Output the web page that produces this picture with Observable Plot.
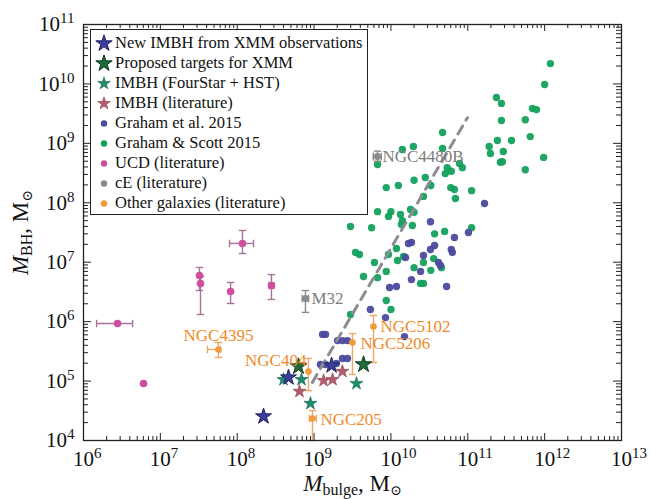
<!DOCTYPE html>
<html><head><meta charset="utf-8">
<script src="https://cdn.jsdelivr.net/npm/d3@7"></script>
<script src="https://cdn.jsdelivr.net/npm/@observablehq/plot@0.6"></script>
<style>
body{margin:0;background:#fff;}
#wrap{position:relative;width:652px;height:499px;font-family:"Liberation Serif","Times New Roman","DejaVu Serif",serif;}
#legend{position:absolute;left:90px;top:29px;width:278px;height:186px;border:1px solid #222;background:#fff;box-sizing:border-box;padding-top:3px;}
.row{position:relative;height:20px;line-height:20px;font-size:16.5px;color:#111;white-space:nowrap;font-family:"Liberation Serif","Times New Roman","DejaVu Serif",serif;}
.row svg{position:absolute;left:2px;top:0;}
.row span{position:absolute;left:24px;top:0;}
</style></head>
<body><div id="wrap"><div id="legend"></div></div>
<script>
// ---------------- data ----------------
const xDecades = [1e6,1e7,1e8,1e9,1e10,1e11,1e12,1e13];
const yDecades = [1e4,1e5,1e6,1e7,1e8,1e9,1e10,1e11];

// Graham & Scott 2015
const gsX = [1.19e12,1.0e12,2.36e11,2.74e11,6.95e11,7.83e11,2.74e11,5.6e11,4.7e10,6.5e11,2.43e11,3.7e11,1.9e11,1.97e11,2.9e11,1.41e10,1.96e10,4.7e10,2.82e11,2.66e11,9.7e11,5.6e11,6.7e9,5.4e10,7.8e10,8.5e10,5.1e10,6.1e10,2.0e10,2.8e10,8.7e9,1.25e10,3.3e10,6.0e10,6.7e10,1.12e11,2.65e10,6.9e10,6.7e9,1.0e10,1.8e10,2.0e10,1.33e10,9.3e9,1.41e10,2.98e9,5.6e9,1.37e10,1.9e10,3.7e10,5.0e10,1.12e11,3.46e9,3.9e9,9.3e9,1.18e10,1.22e10,1.46e10,6.1e9,2.0e10,2.65e10,3.6e10,4.55e10,8.7e9,3.3e10,4.4e9,6.7e9,2.43e10,2.65e10,8.7e9,1.0e10,2.98e9];
const gsY = [2.2e10,9.8e9,5.9e9,4.7e9,3.86e9,3.7e9,2.43e9,2.5e9,1.52e9,1.3e9,1.12e9,1.12e9,8.85e8,6.75e8,7.3e8,7.9e8,8.85e8,8.2e8,4.9e8,4.8e8,5.8e8,3.6e8,4.4e8,3.9e8,4.6e8,3.9e8,3.1e8,3.4e8,2.4e8,2.66e8,1.8e8,1.95e8,1.95e8,1.8e8,1.67e8,1.6e8,1.28e8,1.18e8,7.1e7,7.1e7,7.7e7,6.9e7,6.35e7,5.9e7,5.0e7,4.0e7,3.8e7,4.3e7,4.15e7,3.0e7,3.3e7,3.8e7,1.46e7,1.35e7,1.35e7,1.7e7,1.07e7,1.25e7,9.9e6,8.1e6,9.9e6,1.15e7,8.1e6,7.0e6,7.3e6,5.75e6,5.5e6,4.4e6,4.4e6,2.27e6,1.6e6,1.32e6];

// Graham et al. 2015
const grX = [1.65e11,3.27e10,1.02e11,6.7e10,1.69e10,1.85e10,3.7e10,3.27e10,6.1e10,6.3e10,2.65e10,1.55e10,4.16e10,4.4e10,2.43e10,1.85e10,9.6e9,1.18e10,5.3e10,5.4e9,8.5e9,1.5e10,1.29e9,1.41e9,2.02e9,2.34e9,2.72e9,2.34e9,2.72e9,1.21e9,1.41e9,1.96e9];
const grY = [9.7e7,4.8e7,3.16e7,2.6e7,2.07e7,2.15e7,1.91e7,1.64e7,1.64e7,1.46e7,1.3e7,1.2e7,9.9e6,8.8e6,7.0e6,5.1e6,3.75e6,3.9e6,3.9e6,1.6e6,1.17e6,5.6e5,6.1e5,6.1e5,4.8e5,4.8e5,4.8e5,2.4e5,2.4e5,1.9e5,1.9e5,1.98e5];

// UCD (literature)
const ucdX   = [2.77e6,6.04e6,1.17e8,3.23e7,3.33e7,8.2e7,2.79e8];
const ucdY   = [9.3e5,9.1e4,2.07e7,5.97e6,4.39e6,3.21e6,4.06e6];
const ucdXlo = [1.48e6,null,7.94e7,null,null,null,2.6e8];
const ucdXhi = [4.35e6,null,1.63e8,null,null,null,3.0e8];
const ucdYlo = [null,null,1.40e7,3.34e6,1.32e6,2.02e6,2.36e6];
const ucdYhi = [null,null,3.42e7,8.15e6,5.75e6,4.56e6,6.2e6];

// cE (literature)
const ceNames = ["M32","NGC4480B"];
const ceX   = [7.73e8,6.68e9];
const ceY   = [2.45e6,6.0e8];
const ceXlo = [7.0e8,5.9e9];
const ceXhi = [8.5e8,7.5e9];
const ceYlo = [1.43e6,5.0e8];
const ceYhi = [3.34e6,7.4e8];

// Other galaxies (literature)
const othNames = ["NGC4395","NGC404","NGC205","NGC5206","NGC5102"];
const othX   = [5.7e7,8.45e8,9.53e8,3.16e9,5.93e9];
const othY   = [3.4e5,1.45e5,2.35e4,4.46e5,8.3e5];
const othXlo = [4.1e7,null,8.7e8,null,null];
const othXhi = [6.05e7,null,1.07e9,null,null];
const othYlo = [2.5e5,6.9e4,1.0e4,1.29e5,2.05e5];
const othYhi = [4.46e5,2.4e5,3.2e4,6.3e5,1.27e6];

// IMBH stars
const xmmX  = [2.2e8,4.65e8,1.69e9];
const xmmY  = [2.54e4,1.15e5,1.83e5];
const propX = [6.27e8,4.4e9];
const propY = [1.76e5,1.9e5];
const fsX   = [4.0e8,6.86e8,8.97e8,3.56e9];
const fsY   = [1.06e5,1.06e5,4.2e4,9.1e4];
const litX  = [6.46e8,1.33e9,1.74e9,2.34e9];
const litY  = [6.7e4,1.02e5,1.06e5,1.45e5];

// scaling relation (dashed)
const fitX = [9.5e8,9.9e10];
const fitY = [9.5e4,2.7e9];

const legendLabels = ["New IMBH from XMM observations","Proposed targets for XMM","IMBH (FourStar + HST)","IMBH (literature)","Graham et al. 2015","Graham & Scott 2015","UCD (literature)","cE (literature)","Other galaxies (literature)"];

// ---------------- styles ----------------
const FONT = '"Liberation Serif","Times New Roman","DejaVu Serif",serif';
const C = {
  xmm:"#3b3e9c", xmmS:"#22245f", prop:"#1d6a3a", propS:"#0d3c1f",
  fs:"#1f8d6d", lit:"#b45b6d", gr:"#4b4a9e", gs:"#13a05c",
  ucd:"#cc4f9d", ucdE:"#a8739a", ce:"#8a8a8a", oth:"#f39a3a", othE:"#eaa86a", othT:"#f08a28"
};
const pts = (xs, ys) => xs.map((x,i)=>({x, y:ys[i]}));
const errs = (xs, ys, xlo, xhi, ylo, yhi, names) => xs.map((x,i)=>({x, y:ys[i], xlo:xlo[i], xhi:xhi[i], ylo:ylo[i], yhi:yhi[i], name: names?names[i]:null}));

const gs = pts(gsX, gsY), gr = pts(grX, grY);
const ucd = errs(ucdX, ucdY, ucdXlo, ucdXhi, ucdYlo, ucdYhi);
const ce = errs(ceX, ceY, ceXlo, ceXhi, ceYlo, ceYhi, ceNames);
const oth = errs(othX, othY, othXlo, othXhi, othYlo, othYhi, othNames);
const fit = pts(fitX, fitY);

const capH = {draw(ctx, size){const w=Math.sqrt(size)/2; ctx.moveTo(-w,0); ctx.lineTo(w,0);}};
const capV = {draw(ctx, size){const w=Math.sqrt(size)/2; ctx.moveTo(0,-w); ctx.lineTo(0,w);}};

function errMarks(data, color, sw){
  const v = data.filter(d=>d.ylo!=null), h = data.filter(d=>d.xlo!=null);
  return [
    Plot.ruleX(v, {x:"x", y1:"ylo", y2:"yhi", stroke:color, strokeWidth:sw}),
    Plot.ruleY(h, {y:"y", x1:"xlo", x2:"xhi", stroke:color, strokeWidth:sw}),
    Plot.dot(v, {x:"x", y:"ylo", symbol:capH, r:4.2, stroke:color, strokeWidth:sw, fill:"none"}),
    Plot.dot(v, {x:"x", y:"yhi", symbol:capH, r:4.2, stroke:color, strokeWidth:sw, fill:"none"}),
    Plot.dot(h, {x:"xlo", y:"y", symbol:capV, r:4.2, stroke:color, strokeWidth:sw, fill:"none"}),
    Plot.dot(h, {x:"xhi", y:"y", symbol:capV, r:4.2, stroke:color, strokeWidth:sw, fill:"none"})
  ];
}

const minorOf = dec => dec.slice(0,-1).flatMap(d => [2,3,4,5,6,7,8,9].map(k=>k*d));
const xMinor = minorOf(xDecades), yMinor = minorOf(yDecades);

const W=652, H=499, mL=83, mT=24, mR=31, mB=59;
const iw = W-mL-mR, ih = H-mT-mB;
const tickC = "#222";

const labelStyle = {
  NGC4395:{a:"middle",dx:0,dy:-14}, NGC404:{a:"end",dx:-2,dy:-11}, NGC205:{a:"start",dx:8,dy:1},
  NGC5206:{a:"start",dx:8,dy:1}, NGC5102:{a:"start",dx:7,dy:0}, M32:{a:"start",dx:6,dy:0}, NGC4480B:{a:"start",dx:5,dy:0}
};
function labelMarks(data, color){
  return data.map(d => Plot.text([d], {x:"x", y:"y", text:"name", fill:color, fontSize:17, fontFamily:FONT,
    textAnchor: labelStyle[d.name].a, dx: labelStyle[d.name].dx, dy: labelStyle[d.name].dy}));
}

const plot = Plot.plot({
  width:W, height:H, marginLeft:mL, marginTop:mT, marginRight:mR, marginBottom:mB,
  style:{fontFamily:FONT, background:"#fff", overflow:"visible"},
  x:{type:"log", domain:[1e6,1e13]},
  y:{type:"log", domain:[1e4,1e11]},
  marks:[
    // ticks (inward, all sides)
    Plot.tickX(xMinor, {x:d=>d, insetTop:ih-4, stroke:tickC}),
    Plot.tickX(xMinor, {x:d=>d, insetBottom:ih-4, stroke:tickC}),
    Plot.tickX(xDecades, {x:d=>d, insetTop:ih-7, stroke:tickC}),
    Plot.tickX(xDecades, {x:d=>d, insetBottom:ih-7, stroke:tickC}),
    Plot.tickY(yMinor, {y:d=>d, insetRight:iw-5, stroke:tickC}),
    Plot.tickY(yMinor, {y:d=>d, insetLeft:iw-5, stroke:tickC}),
    Plot.tickY(yDecades, {y:d=>d, insetRight:iw-8, stroke:tickC}),
    Plot.tickY(yDecades, {y:d=>d, insetLeft:iw-8, stroke:tickC}),
    Plot.axisX({ticks:xDecades, tickSize:0, tickPadding:11, fontSize:21, tickFormat:d=>"10^"+Math.round(Math.log10(d)),
      label:"Mbulge", labelAnchor:"center", labelOffset:50, labelArrow:"none"}),
    Plot.axisY({ticks:yDecades, tickSize:0, tickPadding:9, fontSize:21, tickFormat:d=>"10^"+Math.round(Math.log10(d)),
      label:"MBH", labelAnchor:"center", labelOffset:72, labelArrow:"none"}),
    // galaxies
    Plot.dot(gs, {x:"x", y:"y", r:3.7, fill:C.gs, fillOpacity:0.95}),
    Plot.dot(gr, {x:"x", y:"y", r:3.7, fill:C.gr, fillOpacity:0.95}),
    Plot.line(fit, {x:"x", y:"y", stroke:"#8c8c94", strokeWidth:3, strokeDasharray:"9,7"}),
    // UCD, cE, other
    ...errMarks(ucd, C.ucdE, 1.4),
    Plot.dot(ucd, {x:"x", y:"y", r:3.8, fill:C.ucd}),
    ...errMarks(ce, C.ce, 1.4),
    Plot.dot(ce, {x:"x", y:"y", r:3.5, fill:C.ce}),
    ...errMarks(oth, C.othE, 1.4),
    Plot.dot(oth, {x:"x", y:"y", r:3.3, fill:C.oth}),
    // IMBH stars
    Plot.dot(pts(litX, litY), {x:"x", y:"y", symbol:"star", r:4.1, fill:C.lit, stroke:"#8a3c4c", strokeWidth:0.6}),
    Plot.dot(pts(fsX, fsY), {x:"x", y:"y", symbol:"star", r:4.1, fill:C.fs, stroke:"#145e48", strokeWidth:0.6}),
    Plot.dot(pts(propX, propY), {x:"x", y:"y", symbol:"star", r:5.2, fill:C.prop, stroke:C.propS, strokeWidth:1}),
    Plot.dot(pts(xmmX, xmmY), {x:"x", y:"y", symbol:"star", r:5.0, fill:C.xmm, stroke:C.xmmS, strokeWidth:1}),
    // labels
    ...labelMarks(oth, C.othT),
    ...labelMarks(ce, "#7c7c7c"),
    Plot.frame({stroke:"#222", strokeWidth:1.3})
  ]
});

document.getElementById("wrap").insertBefore(plot, document.getElementById("legend"));

const svg = d3.select(plot);
svg.selectAll("text").attr("font-family", FONT);

// superscript tick labels
function sup(sel, xAxis){
  sel.each(function(){
    const t = d3.select(this);
    const parts = this.textContent.split("^");
    t.text(null).attr("font-size", 21).attr("fill", "#111");
    const a = t.append("tspan").text(parts[0]);
    if (xAxis){ t.attr("text-anchor","start"); a.attr("dx", -10.5); }
    t.append("tspan").attr("dy", -8).attr("font-size", 15).text(parts[1]);
  });
}
sup(svg.selectAll('g[aria-label="x-axis tick label"] text'), true);
sup(svg.selectAll('g[aria-label="y-axis tick label"] text'), false);

function massLabel(sel, sub){
  sel.each(function(){
    const t = d3.select(this);
    t.text(null).attr("font-size", 23).attr("fill", "#111");
    t.append("tspan").attr("font-style","italic").text("M");
    t.append("tspan").attr("dy", 4).attr("font-size", 16).text(sub);
    t.append("tspan").attr("dy", -4).text(", M");
    t.append("tspan").attr("dy", 4).attr("font-size", 14).text("\u2299");
  });
}
massLabel(svg.selectAll('g[aria-label="x-axis label"] text'), "bulge");
massLabel(svg.selectAll('g[aria-label="y-axis label"] text'), "BH");

// legend
const legendSym = [
  {s:d3.symbolStar, r:8.6, f:C.xmm, st:C.xmmS, sw:1},
  {s:d3.symbolStar, r:8.6, f:C.prop, st:C.propS, sw:1},
  {s:d3.symbolStar, r:6.6, f:C.fs, st:"#145e48", sw:0.6},
  {s:d3.symbolStar, r:6.6, f:C.lit, st:"#8a3c4c", sw:0.6},
  {s:d3.symbolCircle, r:3.2, f:C.gr},
  {s:d3.symbolCircle, r:3.2, f:C.gs},
  {s:d3.symbolCircle, r:3.2, f:C.ucd},
  {s:d3.symbolCircle, r:3.2, f:C.ce},
  {s:d3.symbolCircle, r:3.2, f:C.oth}
];
const leg = d3.select("#legend");
legendLabels.forEach((lab,i)=>{
  const row = leg.append("div").attr("class","row");
  const sv = row.append("svg").attr("width",22).attr("height",20);
  const m = legendSym[i];
  const size = m.s===d3.symbolStar ? (m.r*m.r)/0.8908 : Math.PI*m.r*m.r;
  sv.append("path").attr("transform","translate(11,10.5)").attr("d", d3.symbol(m.s, size)())
    .attr("fill", m.f).attr("stroke", m.st||"none").attr("stroke-width", m.sw||0);
  row.append("span").text(lab);
});
</script>
</body></html>
